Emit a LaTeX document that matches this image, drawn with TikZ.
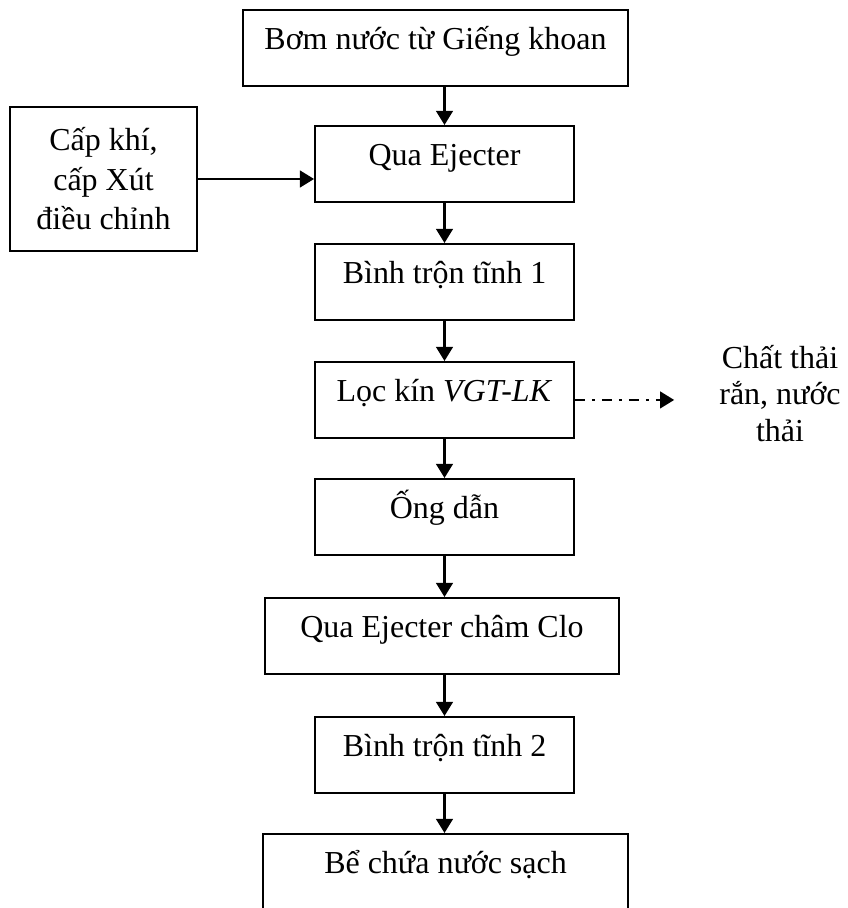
\documentclass[tikz,border=0pt]{standalone}
\usepackage{fontspec}
\setmainfont{Liberation Serif}
\usetikzlibrary{arrows.meta}
\begin{document}
\begin{tikzpicture}[x=1cm,y=1cm,
  font=\fontsize{18.2}{22.5}\selectfont,
  stepbox/.style={draw, line width=1.1pt, anchor=north, inner sep=0pt,
    text height=0.8cm, text depth=0.72cm, align=center},
  flow/.style={line width=1.2pt, -{Triangle[width=9.5pt,length=8pt]}}]
\useasboundingbox (0,0) rectangle (16.94,18.16);

\node[stepbox, minimum width=7.70cm] (pump) at (8.71,17.98) {Bơm nước từ Giếng khoan};
\node[stepbox, minimum width=5.18cm] (ejector) at (8.89,15.66) {Qua Ejecter};
\node[draw, line width=1.1pt, minimum width=3.74cm, minimum height=2.88cm,
  align=center] (feed) at (2.07,14.58) {Cấp khí,\\cấp Xút\\điều chỉnh};
\node[stepbox, minimum width=5.18cm] (mixer1) at (8.89,13.30) {Bình trộn tĩnh 1};
\node[stepbox, minimum width=5.18cm] (filter) at (8.89,10.94) {Lọc kín \textit{VGT-LK}};
\node[align=center, font=\fontsize{18.2}{20.8}\selectfont] (waste) at (15.6,10.29)
  {Chất thải\\rắn, nước\\thải};
\node[stepbox, minimum width=5.18cm] (pipe) at (8.89,8.60) {Ống dẫn};
\node[stepbox, minimum width=7.08cm] (chlorine) at (8.84,6.22) {Qua Ejecter châm Clo};
\node[stepbox, minimum width=5.18cm] (mixer2) at (8.89,3.84) {Bình trộn tĩnh 2};
\node[stepbox, minimum width=7.30cm, text depth=0.8cm] (tank) at (8.91,1.50) {Bể chứa nước sạch};

\draw[flow] (pump.south -| ejector.north) -- (ejector.north);
\draw[flow] (feed.east) -- (feed.east -| ejector.west);
\draw[flow] (ejector.south) -- (mixer1.north);
\draw[flow] (mixer1.south) -- (filter.north);
\draw[flow, dash pattern=on 0.2cm off 0.14cm on 0.06cm off 0.14cm, shorten >=0.78cm]
  (filter.east) -- (filter.east -| waste.west);
\draw[flow] (filter.south) -- (pipe.north);
\draw[flow] (pipe.south) -- (pipe.south |- chlorine.north);
\draw[flow] (chlorine.south -| mixer2.north) -- (mixer2.north);
\draw[flow] (mixer2.south) -- (mixer2.south |- tank.north);
\end{tikzpicture}
\end{document}
